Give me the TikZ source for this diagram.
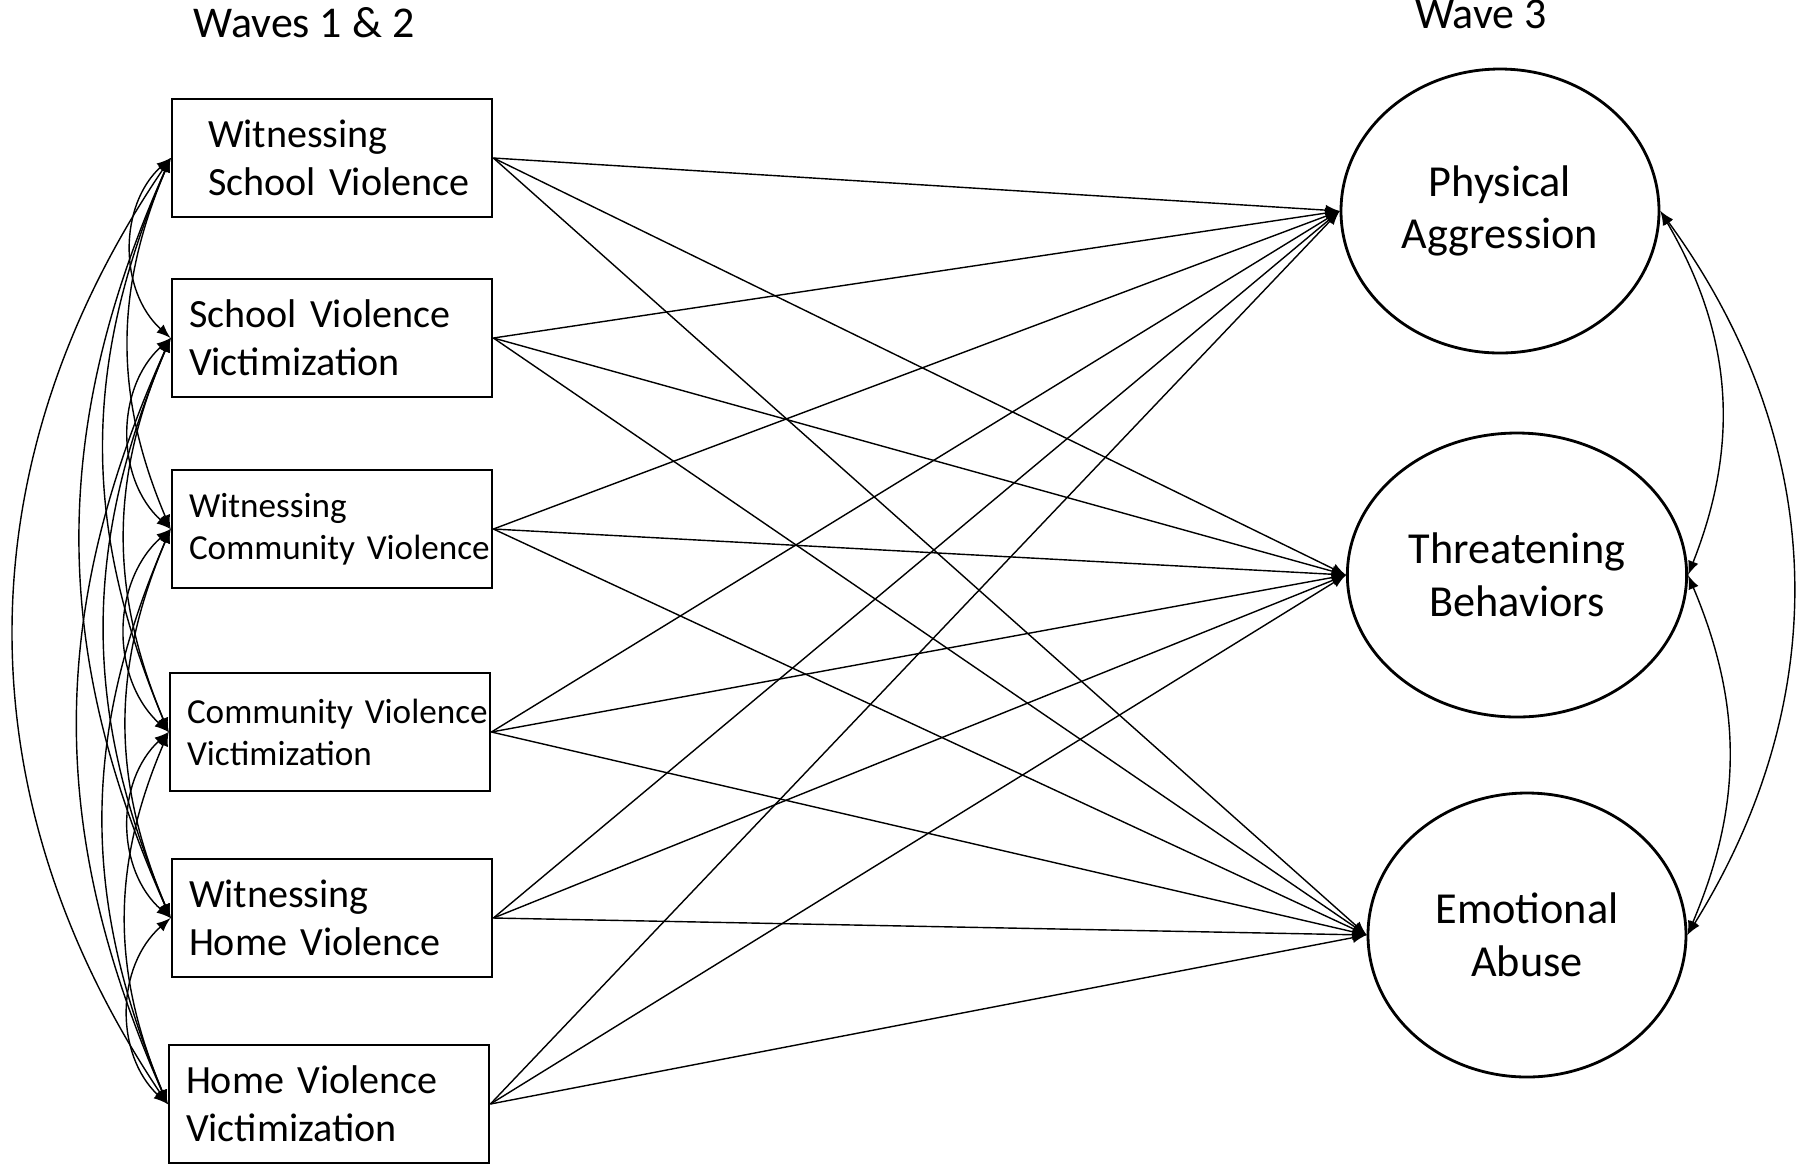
\documentclass[tikz,border=0pt]{standalone}
\usepackage{fontspec}
\setmainfont{Carlito}
\usetikzlibrary{arrows,shapes.geometric}

\begin{document}
\begin{tikzpicture}[>=latex,auto,thin,
  obs node/.style={rectangle,draw,thick,minimum width=3.2cm,minimum height=1.18cm,
    text width=2.86cm,inner xsep=0.17cm,align=left,font=\fontsize{11.4}{13.7}\selectfont},
  small obs/.style={font=\fontsize{10}{12}\selectfont},
  lat node/.style={ellipse,draw,thick,minimum width=3.18cm,minimum height=2.84cm,
    align=center,font=\fontsize{12.6}{15}\selectfont},
  head node/.style={font=\fontsize{12.5}{15}\selectfont}]

  \useasboundingbox (0,0) rectangle (18,-11.65);

  \node[head node] (wave12) at (3.04,-0.23) {Waves 1 \& 2};
  \node[head node] (wave3) at (14.81,-0.14) {Wave 3};

  \node[obs node] (wsv) at (3.32,-1.58) {\hspace*{0.19cm}Witnessing\\\hspace*{0.19cm}\mbox{School Violence}};
  \node[obs node] (svv) at (3.32,-3.38) {\mbox{School Violence}\\Victimization};
  \node[obs node,small obs] (wcv) at (3.32,-5.29) {Witnessing\\\mbox{Community Violence}};
  \node[obs node,small obs] (cvv) at (3.30,-7.32) {\mbox{Community Violence}\\Victimization};
  \node[obs node] (whv) at (3.32,-9.18) {Witnessing\\\mbox{Home Violence}};
  \node[obs node] (hvv) at (3.29,-11.04) {\mbox{Home Violence}\\Victimization};

  \node[lat node] (pa) at (15.00,-2.11) {Physical\\Aggression};
  \node[lat node] (tb) at (15.17,-5.75) {Threatening\\Behaviors};
  \node[lat node] (ea) at (15.27,-9.35) {Emotional\\Abuse};

  \path[->]
    (wsv.east) edge (pa.west)
    (wsv.east) edge (tb.west)
    (wsv.east) edge (ea.west)
    (svv.east) edge (pa.west)
    (svv.east) edge (tb.west)
    (svv.east) edge (ea.west)
    (wcv.east) edge (pa.west)
    (wcv.east) edge (tb.west)
    (wcv.east) edge (ea.west)
    (cvv.east) edge (pa.west)
    (cvv.east) edge (tb.west)
    (cvv.east) edge (ea.west)
    (whv.east) edge (pa.west)
    (whv.east) edge (tb.west)
    (whv.east) edge (ea.west)
    (hvv.east) edge (pa.west)
    (hvv.east) edge (tb.west)
    (hvv.east) edge (ea.west) ;

  \path[<->]
    (wsv.west) edge[bend right=48] (svv.west)
    (svv.west) edge[bend right=48] (wcv.west)
    (wcv.west) edge[bend right=48] (cvv.west)
    (cvv.west) edge[bend right=48] (whv.west)
    (whv.west) edge[bend right=48] (hvv.west)
    (wsv.west) edge[bend right=23] (wcv.west)
    (svv.west) edge[bend right=23] (cvv.west)
    (wcv.west) edge[bend right=23] (whv.west)
    (cvv.west) edge[bend right=23] (hvv.west)
    (wsv.west) edge[bend right=23] (cvv.west)
    (svv.west) edge[bend right=23] (whv.west)
    (wcv.west) edge[bend right=23] (hvv.west)
    (wsv.west) edge[bend right=24] (whv.west)
    (svv.west) edge[bend right=24] (hvv.west)
    (wsv.west) edge[bend right=34] (hvv.west) ;

  \path[<->]
    (pa.east) edge[bend left=26] (tb.east)
    (tb.east) edge[bend left=23] (ea.east)
    (pa.east) edge[bend left=34] (ea.east) ;

\end{tikzpicture}
\end{document}
